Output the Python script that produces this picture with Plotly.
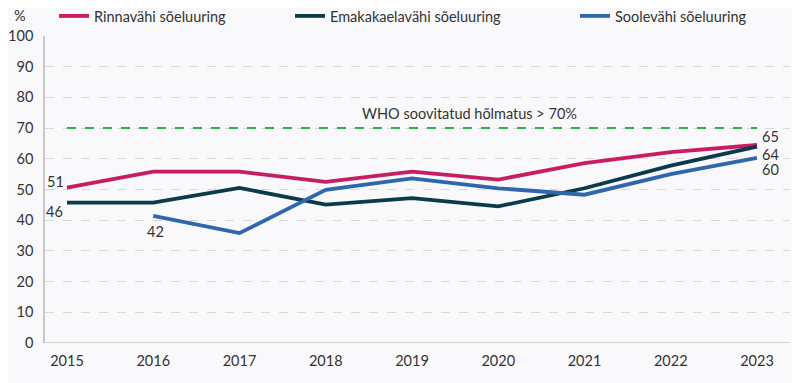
import plotly.graph_objects as go

years = [2015, 2016, 2017, 2018, 2019, 2020, 2021, 2022, 2023]
rinna = [50.6, 55.8, 55.8, 52.5, 55.8, 53.2, 58.6, 62.2, 64.5]
emaka = [45.7, 45.7, 50.5, 45.1, 47.2, 44.5, 50.4, 57.8, 64.0]
soole = [None, 41.4, 35.8, 49.9, 53.6, 50.4, 48.3, 55.0, 60.3]
who_level = 70

names = ["Rinnavähi sõeluuring", "Emakakaelavähi sõeluuring", "Soolevähi sõeluuring"]
colors = ["#c81d62", "#0b3a4a", "#2f67ad"]
legend_ids = ["legend", "legend2", "legend3"]
legend_x = [46, 282, 567]

font_col = "#333333"
fsize = 14.5

# page body has 8px margin -> plot area in figure coords
ML, MT, MR, MB = 37, 28, 18, 48
PW, PH = 800 - ML - MR, 383 - MT - MB

fig = go.Figure()
for name, vals, c, lg in zip(names, [rinna, emaka, soole], colors, legend_ids):
    fig.add_trace(go.Scatter(x=years, y=vals, name=name, mode="lines", legend=lg,
                             line=dict(color=c, width=3.8)))

fig.add_trace(go.Scatter(x=[years[0], years[-1]], y=[who_level, who_level], mode="lines",
                         line=dict(color="#2db04b", width=2, dash="dash"),
                         showlegend=False, hoverinfo="skip"))

ann = [
    dict(x=2019.67, y=who_level, text="WHO soovitatud hõlmatus > 70%", yshift=15, showarrow=False),
    dict(x=years[0], y=rinna[0], text="51", xanchor="right", xshift=-1, yshift=6, showarrow=False),
    dict(x=years[0], y=emaka[0], text="46", xanchor="right", xshift=-2, yshift=-9, showarrow=False),
    dict(x=years[1], y=soole[1], text="42", xshift=2, yshift=-16, showarrow=False),
    dict(x=years[-1], y=rinna[-1], text="65", xanchor="left", xshift=3, yshift=8, showarrow=False),
    dict(x=years[-1], y=emaka[-1], text="64", xanchor="left", xshift=3, yshift=-8, showarrow=False),
    dict(x=years[-1], y=soole[-1], text="60", xanchor="left", xshift=3, yshift=-12, showarrow=False),
    dict(x=(12 - ML) / PW, y=1 + (MT - 8) / PH, xref="paper", yref="paper", text="%",
         xanchor="center", yanchor="middle", showarrow=False),
]
for a in ann:
    a["font"] = dict(size=fsize, color=font_col)
fig.update_layout(annotations=ann)

legend_common = dict(orientation="h", xref="container", yref="paper",
                     y=1 + (MT - 8) / PH, xanchor="left", yanchor="middle",
                     bgcolor="rgba(0,0,0,0)", font=dict(size=fsize, color=font_col))
legends = {}
for lg, lx in zip(legend_ids, legend_x):
    legends[lg] = dict(legend_common, x=lx / 800)

fig.update_layout(
    width=800, height=383,
    margin=dict(l=ML, r=MR, t=MT, b=MB, autoexpand=False),
    paper_bgcolor="#f9f9fb", plot_bgcolor="#f9f9fb",
    font=dict(family="Lato", size=fsize, color=font_col),
    showlegend=True,
    xaxis=dict(range=[2014.745, 2023.383], tickvals=years, showgrid=False,
               showline=False, zeroline=False, ticks="", tickfont=dict(size=fsize),
               ticklabelstandoff=7),
    yaxis=dict(range=[0, 100], dtick=10, showgrid=True, gridcolor="#d9d9d9",
               griddash="dash", gridwidth=1, zeroline=False,
               showline=True, linecolor="#c8c8c8", linewidth=1.5,
               ticks="", tickfont=dict(size=fsize), ticklabelstandoff=7),
    **legends,
)
fig.add_shape(type="line", xref="paper", yref="y", x0=0, x1=1, y0=0, y1=0,
              line=dict(color="#c8c8c8", width=1.5))

fig.write_html("out.html")
